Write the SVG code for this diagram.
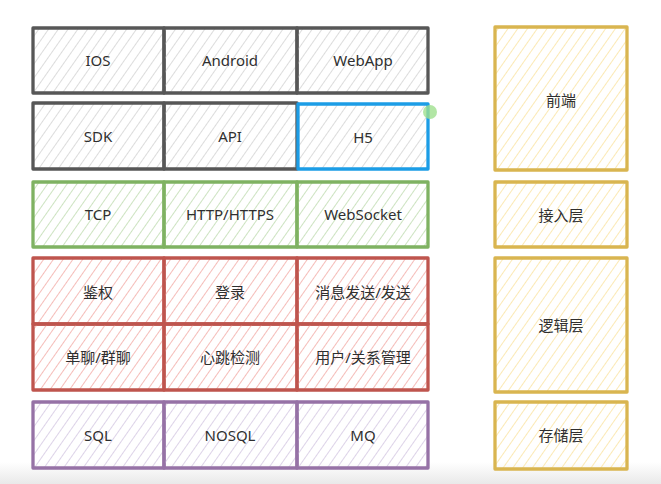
<svg xmlns="http://www.w3.org/2000/svg" width="661" height="484" viewBox="0 0 661 484">
<defs>
<pattern id="hg" width="8" height="8" patternUnits="userSpaceOnUse" patternTransform="rotate(35)"><line x1="0" y1="0" x2="0" y2="8" stroke="#dcdcdc" stroke-width="2"/></pattern>
<pattern id="hgr" width="8" height="8" patternUnits="userSpaceOnUse" patternTransform="rotate(35)"><line x1="0" y1="0" x2="0" y2="8" stroke="#cde3c1" stroke-width="2"/></pattern>
<pattern id="hr" width="8" height="8" patternUnits="userSpaceOnUse" patternTransform="rotate(35)"><line x1="0" y1="0" x2="0" y2="8" stroke="#f5bdb9" stroke-width="2"/></pattern>
<pattern id="hp" width="8" height="8" patternUnits="userSpaceOnUse" patternTransform="rotate(35)"><line x1="0" y1="0" x2="0" y2="8" stroke="#ddd3e8" stroke-width="2"/></pattern>
<pattern id="hy" width="8" height="8" patternUnits="userSpaceOnUse" patternTransform="rotate(35)"><line x1="0" y1="0" x2="0" y2="8" stroke="#fbe9b5" stroke-width="2"/></pattern>
<linearGradient id="bg" x1="0" y1="0" x2="0" y2="1"><stop offset="0" stop-color="#ffffff"/><stop offset="1" stop-color="#e9e9e9"/></linearGradient>
</defs>
<style>
text{font-family:"Noto Sans","Noto Sans CJK SC",sans-serif;font-size:15px;fill:#2f2f2f;text-anchor:middle;dominant-baseline:central}
rect.c{stroke-width:3.3;stroke-linejoin:round}
.gy{fill:url(#hg);stroke:#575757}
.gr{fill:url(#hgr);stroke:#7fb262}
.rd{fill:url(#hr);stroke:#bf554e}
.pu{fill:url(#hp);stroke:#9672a6}
.ye{fill:url(#hy);stroke:#d9b550}
</style>
<rect x="0" y="0" width="661" height="484" fill="#ffffff"/>
<rect x="0" y="462" width="661" height="22" fill="url(#bg)"/>
<g id="ios"><rect class="c gy" x="33" y="28" width="131" height="65"/><text x="98" y="60">IOS</text></g>
<g id="android"><rect class="c gy" x="164" y="28" width="133" height="65"/><text x="230" y="60">Android</text></g>
<g id="webapp"><rect class="c gy" x="297" y="28" width="131" height="65"/><text x="363" y="60">WebApp</text></g>
<g id="sdk"><rect class="c gy" x="33" y="103" width="131" height="66"/><text x="98" y="136">SDK</text></g>
<g id="api"><rect class="c gy" x="164" y="103" width="133" height="66"/><text x="230" y="136">API</text></g>
<g id="h5"><rect class="c" x="298" y="104" width="130" height="65" fill="url(#hg)" stroke="#1c9de6" stroke-width="5"/><text x="363" y="137">H5</text><circle cx="430" cy="112" r="7" fill="#9fe08f" opacity="0.8"/></g>
<g id="tcp"><rect class="c gr" x="33" y="182" width="131" height="65"/><text x="98" y="214">TCP</text></g>
<g id="http"><rect class="c gr" x="164" y="182" width="133" height="65"/><text x="230" y="214">HTTP/HTTPS</text></g>
<g id="websocket"><rect class="c gr" x="297" y="182" width="131" height="65"/><text x="363" y="214">WebSocket</text></g>
<g id="auth"><rect class="c rd" x="33" y="258" width="131" height="66"/><text x="98" y="292">鉴权</text></g>
<g id="login"><rect class="c rd" x="164" y="258" width="133" height="66"/><text x="230" y="292">登录</text></g>
<g id="msg"><rect class="c rd" x="297" y="258" width="131" height="66"/><text x="363" y="292">消息发送/发送</text></g>
<g id="chat"><rect class="c rd" x="33" y="324" width="131" height="66"/><text x="98" y="357">单聊/群聊</text></g>
<g id="heartbeat"><rect class="c rd" x="164" y="324" width="133" height="66"/><text x="230" y="357">心跳检测</text></g>
<g id="user"><rect class="c rd" x="297" y="324" width="131" height="66"/><text x="363" y="357">用户/关系管理</text></g>
<g id="sql"><rect class="c pu" x="33" y="402" width="131" height="66"/><text x="98" y="435">SQL</text></g>
<g id="nosql"><rect class="c pu" x="164" y="402" width="133" height="66"/><text x="230" y="435">NOSQL</text></g>
<g id="mq"><rect class="c pu" x="297" y="402" width="131" height="66"/><text x="363" y="435">MQ</text></g>
<g id="frontend"><rect class="c ye" x="495" y="27" width="132" height="143"/><text x="561" y="100">前端</text></g>
<g id="access"><rect class="c ye" x="495" y="182" width="132" height="65"/><text x="561" y="215">接入层</text></g>
<g id="logic"><rect class="c ye" x="495" y="258" width="132" height="134"/><text x="561" y="325">逻辑层</text></g>
<g id="storage"><rect class="c ye" x="495" y="402" width="132" height="67"/><text x="561" y="435">存储层</text></g>
<g id="connectors"></g>
</svg>
